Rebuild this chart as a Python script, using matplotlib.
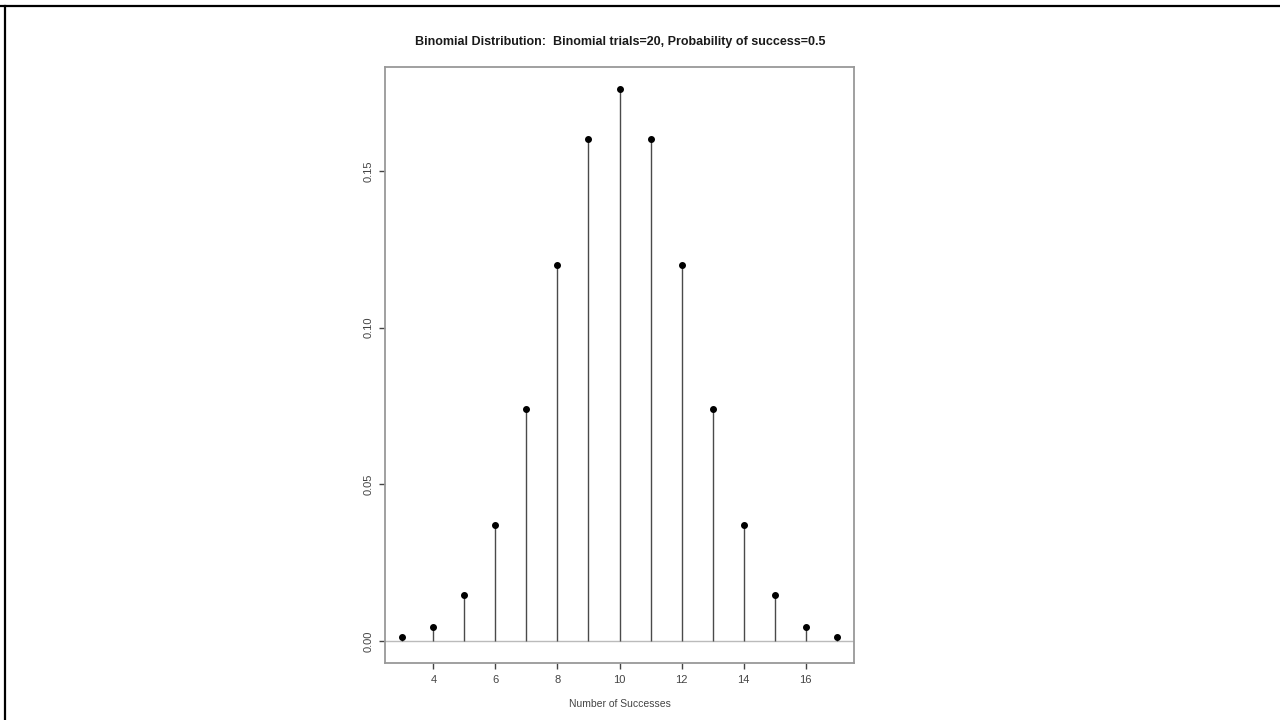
import matplotlib
matplotlib.use("Agg")
import matplotlib.pyplot as plt
from matplotlib.lines import Line2D

# binomial pmf, n=20, p=0.5
successes = [3, 4, 5, 6, 7, 8, 9, 10, 11, 12, 13, 14, 15, 16, 17]
probs = [0.0011, 0.0046, 0.0148, 0.0370, 0.0739, 0.1201, 0.1602, 0.1762,
         0.1602, 0.1201, 0.0739, 0.0370, 0.0148, 0.0046, 0.0011]
x_ticks = [4, 6, 8, 10, 12, 14, 16]
y_ticks = [0.00, 0.05, 0.10, 0.15]
y_labels = ["0.00", "0.05", "0.10", "0.15"]

plt.rcParams["font.family"] = ["Liberation Sans", "DejaVu Sans"]

fig = plt.figure(figsize=(12.8, 7.2), dpi=100)
ax = fig.add_axes([385 / 1280, 1 - 663 / 720, 469 / 1280, 596 / 720])

ax.axhline(0, color="#bbbbbb", lw=1.0, zorder=1)
ax.vlines(successes, 0, probs, color="#4a4a4a", lw=1.0, zorder=2)
ax.plot(successes, probs, "o", color="black", ms=4, zorder=3)

ax.set_xlim(2.44, 17.56)
ax.set_ylim(-0.00705, 0.1832)
ax.set_xticks(x_ticks)
ax.set_yticks(y_ticks)
ax.set_yticklabels(y_labels, rotation=90, va="center")
ax.tick_params(axis="both", colors="#444444", labelsize=8, length=4.5,
               width=1.0, direction="out")
ax.tick_params(axis="x", pad=4)
ax.tick_params(axis="y", pad=4)
for s in ax.spines.values():
    s.set_color("#999999")
    s.set_linewidth(1.3)

ax.set_xlabel("Number of Successes", fontsize=7.5, color="#444444", labelpad=10)
fig.text(0.4844, 1 - 42 / 720,
         "Binomial Distribution:  Binomial trials=20, Probability of success=0.5",
         ha="center", va="center", fontsize=9, fontweight="bold", color="#1a1a1a")

# slide frame (top and left edges)
fig.add_artist(Line2D([0, 1], [1 - 6 / 720, 1 - 6 / 720], transform=fig.transFigure,
                      color="black", lw=1.6))
fig.add_artist(Line2D([5 / 1280, 5 / 1280], [0, 1 - 6 / 720], transform=fig.transFigure,
                      color="black", lw=1.6))

fig.savefig("out.png", dpi=100)
